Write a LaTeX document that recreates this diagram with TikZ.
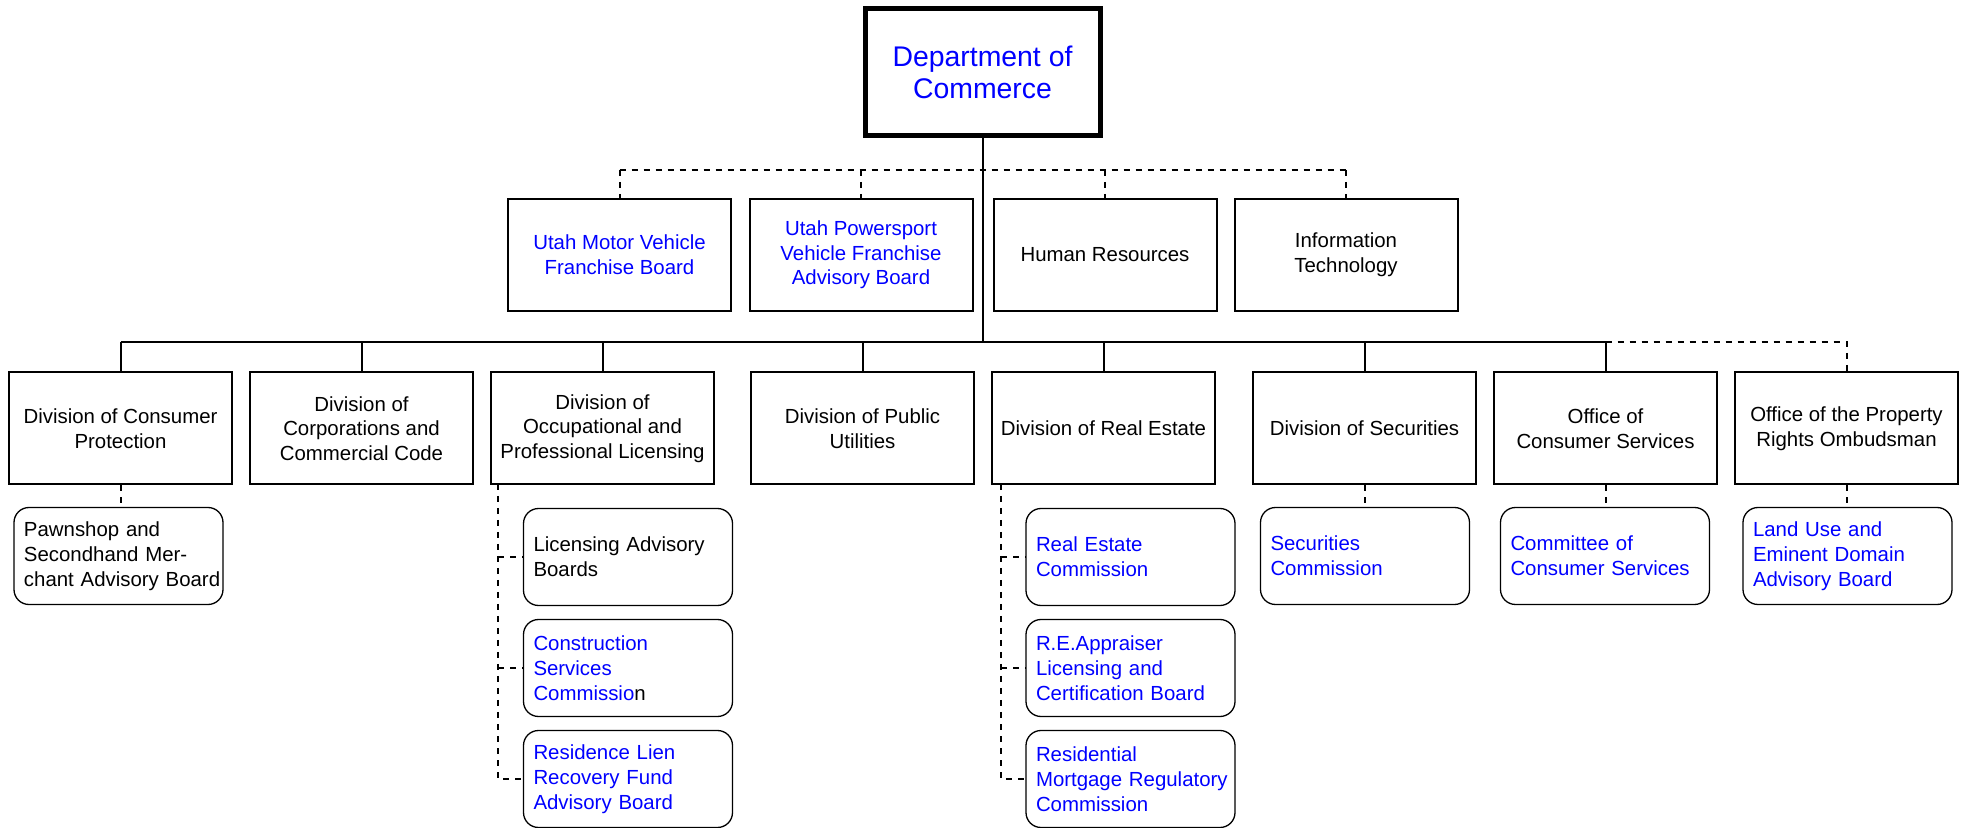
\documentclass[tikz,border=0pt]{standalone}
\usepackage{fontspec}
\setmainfont{Liberation Sans}
\usepackage{tikz}

\tikzset{
  dept/.style={draw, line width=2.5pt, minimum width=117.5pt, minimum height=63.5pt,
    inner sep=0pt, align=center, text=blue, font=\fontsize{14.2}{15.8}\selectfont},
  unit/.style={draw, line width=1pt, minimum width=111.5pt, minimum height=56pt,
    inner sep=0pt, align=center, font=\fontsize{10.2}{12.3}\selectfont},
  board/.style={draw, line width=0.65pt, rounded corners=7.5pt, minimum height=48.5pt,
    text width=94.5pt, inner xsep=5pt, inner ysep=0pt, align=left,
    font=\fontsize{10.2}{12.4}\selectfont},
  solidline/.style={line width=1pt},
  dashline/.style={line width=1pt, dash pattern=on 3pt off 3pt},
}

\begin{document}
\begin{tikzpicture}[x=0.5pt, y=-0.5pt]
    \useasboundingbox (0,0) rectangle (1967,828);
    % Department
    \node[dept] (dept) at (982.5,72.5) {Department of\\Commerce};
    % Staff offices
    \node[unit, text=blue] (mvfb) at (619.5,255) {Utah Motor Vehicle\\Franchise Board};
    \node[unit, text=blue] (psfb) at (861,255) {Utah Powersport\\Vehicle Franchise\\Advisory Board};
    \node[unit] (hr) at (1105,255) {Human Resources};
    \node[unit] (it) at (1346,255) {Information\\Technology};
    % Divisions
    \node[unit] (dcp) at (120.5,428.5) {Division of Consumer\\Protection};
    \node[unit] (dcc) at (361.5,428.5) {Division of\\Corporations and\\Commercial Code};
    \node[unit] (dopl) at (602.5,428.5) {Division of\\Occupational and\\Professional Licensing};
    \node[unit] (dpu) at (862.5,428.5) {Division of Public\\Utilities};
    \node[unit] (dre) at (1103.5,428.5) {Division of Real Estate};
    \node[unit] (dsec) at (1364.5,428.5) {Division of Securities};
    \node[unit] (ocs) at (1605.5,428.5) {Office of\\Consumer Services};
    \node[unit] (oprm) at (1846.5,428.5) {Office of the Property\\Rights Ombudsman};
    % Boards and commissions
    \node[board] (pawn) at (118.5,556) {Pawnshop and\\Secondhand Mer-\\\mbox{chant Advisory Board}};
    \node[board] (lab) at (628,557) {Licensing Advisory\\Boards};
    \node[board, text=blue] (csc) at (628,668) {Construction\\Services\\Commissio\textcolor{black}{n}};
    \node[board, text=blue] (rlrf) at (628,779) {Residence Lien\\Recovery Fund\\Advisory Board};
    \node[board, text=blue] (rec) at (1130.5,557) {Real Estate\\Commission};
    \node[board, text=blue] (reac) at (1130.5,668) {R.E.Appraiser\\Licensing and\\\mbox{Certification Board}};
    \node[board, text=blue] (rmrc) at (1130.5,779) {Residential\\\mbox{Mortgage Regulatory}\\Commission};
    \node[board, text=blue] (seccom) at (1365,556) {Securities\\Commission};
    \node[board, text=blue] (ccs) at (1605,556) {Committee of\\\mbox{Consumer Services}};
    \node[board, text=blue] (lued) at (1847.5,556) {Land Use and\\Eminent Domain\\Advisory Board};
    % Bus lines
    \coordinate (topbus) at (982.5,170);
    \coordinate (divbus) at (982.5,342);
    \coordinate (dopltrunk) at (498,484);
    \coordinate (dretrunk) at (1001,484);
    % Main line
    \draw[solidline] (dept.south) -- (divbus);
    % Staff offices (dashed)
    \draw[dashline] (topbus -| mvfb.north) -- (topbus -| it.north);
    \foreach \n in {mvfb,psfb,hr,it}
        \draw[dashline] (topbus -| \n.north) -- (\n.north);
    % Divisions
    \draw[solidline] (divbus -| dcp.north) -- (divbus -| ocs.north);
    \foreach \n in {dcp,dcc,dopl,dpu,dre,dsec,ocs}
        \draw[solidline] (divbus -| \n.north) -- (\n.north);
    \draw[dashline] (divbus -| ocs.north) -| (oprm.north);
    % Boards under divisions
    \draw[dashline] (dcp.south) -- (dcp.south |- pawn.north);
    \draw[dashline] (dsec.south) -- (dsec.south |- seccom.north);
    \draw[dashline] (ocs.south) -- (ocs.south |- ccs.north);
    \draw[dashline] (oprm.south) -- (oprm.south |- lued.north);
    \draw[dashline] (dopltrunk) |- (rlrf.west);
    \draw[dashline] (dopltrunk |- lab.west) -- (lab.west);
    \draw[dashline] (dopltrunk |- csc.west) -- (csc.west);
    \draw[dashline] (dretrunk) |- (rmrc.west);
    \draw[dashline] (dretrunk |- rec.west) -- (rec.west);
    \draw[dashline] (dretrunk |- reac.west) -- (reac.west);
\end{tikzpicture}
\end{document}
